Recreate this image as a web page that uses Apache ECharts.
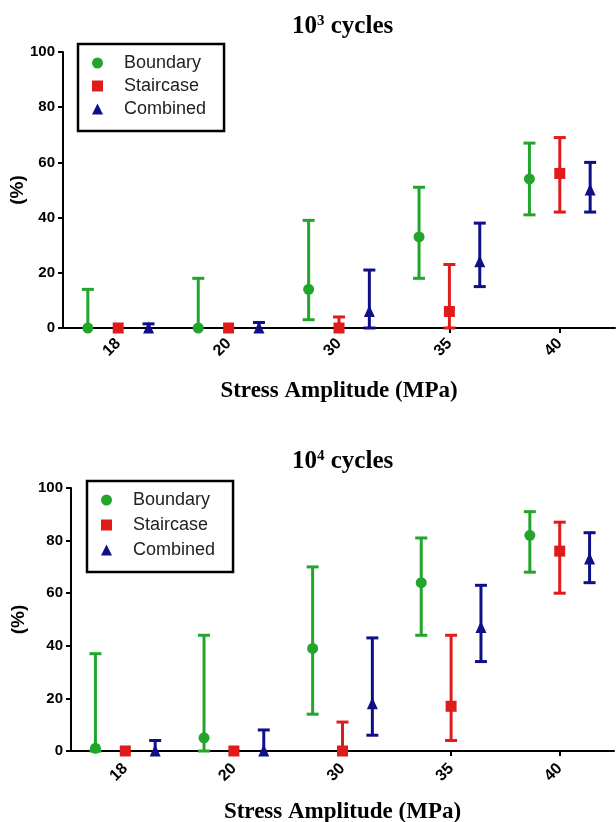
<!DOCTYPE html>
<html>
<head>
<meta charset="utf-8">
<script src="https://cdn.jsdelivr.net/npm/echarts@6/dist/echarts.min.js"></script>
<style>
  html, body { margin: 0; padding: 0; background: #fff; }
  #main { width: 616px; height: 822px; }
</style>
</head>
<body>
<div id="main"></div>
<script>
var categories = ['18', '20', '30', '35', '40'];

// 10^3 cycles
var boundary3 = [0, 0, 14, 33, 54];
var boundary3Lo = [0, 0, 3, 18, 41];
var boundary3Hi = [14, 18, 39, 51, 67];
var staircase3 = [0, 0, 0, 6, 56];
var staircase3Lo = [0, 0, 0, 0, 42];
var staircase3Hi = [0, 0, 4, 23, 69];
var combined3 = [0, 0, 6, 24, 50];
var combined3Lo = [0, 0, 0, 15, 42];
var combined3Hi = [1.5, 2, 21, 38, 60];

// 10^4 cycles
var boundary4 = [1, 5, 39, 64, 82];
var boundary4Lo = [0, 0, 14, 44, 68];
var boundary4Hi = [37, 44, 70, 81, 91];
var staircase4 = [0, 0, 0, 17, 76];
var staircase4Lo = [0, 0, 0, 4, 60];
var staircase4Hi = [0, 0, 11, 44, 87];
var combined4 = [0, 0, 18, 47, 73];
var combined4Lo = [0, 0, 6, 34, 64];
var combined4Hi = [4, 8, 43, 63, 83];

var yTicks = [0, 20, 40, 60, 80, 100];

var green = '#22a52a', red = '#e01b1b', blue = '#0f0f88';

function rows(mean, lo, hi) {
  return mean.map(function (v, i) { return [i, v, lo[i], hi[i]]; });
}

function errSeries(name, idx, color, shape, offset, data) {
  return {
    name: name,
    type: 'custom',
    xAxisIndex: idx,
    yAxisIndex: idx,
    itemStyle: { color: color },
    data: data,
    renderItem: function (params, api) {
      var xi = api.value(0), m = api.value(1), lo = api.value(2), hi = api.value(3);
      var band = api.size([1, 0])[0];
      var p = api.coord([xi, m]);
      var x = p[0] + offset * band;
      var yHi = api.coord([xi, hi])[1];
      var yLo = api.coord([xi, lo])[1];
      var st = { stroke: color, lineWidth: 3 };
      var kids = [];
      if (hi > lo) {
        kids.push({ type: 'line', shape: { x1: x, y1: yLo, x2: x, y2: yHi }, style: st });
      }
      if (hi > m) kids.push({ type: 'line', shape: { x1: x - 6, y1: yHi, x2: x + 6, y2: yHi }, style: st });
      if (lo < m) kids.push({ type: 'line', shape: { x1: x - 6, y1: yLo, x2: x + 6, y2: yLo }, style: st });
      var s = 5.5;
      if (shape === 'circle') {
        kids.push({ type: 'circle', shape: { cx: x, cy: p[1], r: s }, style: { fill: color } });
      } else if (shape === 'rect') {
        kids.push({ type: 'rect', shape: { x: x - s, y: p[1] - s, width: 2 * s, height: 2 * s }, style: { fill: color } });
      } else {
        kids.push({ type: 'polygon', shape: { points: [[x, p[1] - s - 1], [x - s, p[1] + s], [x + s, p[1] + s]] }, style: { fill: color } });
      }
      return { type: 'group', children: kids };
    }
  };
}

var myChart = echarts.init(document.getElementById('main'));

var axisLine = { lineStyle: { color: '#000', width: 2 } };

function xAxisFor(idx, gap, margin) {
  return {
    type: 'category',
    gridIndex: idx,
    data: categories,
    axisLine: axisLine,
    axisTick: { show: true, alignWithLabel: true, lineStyle: { color: '#000', width: 2 }, length: 5 },
    axisLabel: { rotate: 45, margin: margin, color: '#000', fontWeight: 'bold', fontSize: 16, fontFamily: 'Liberation Sans' },
    name: 'Stress Amplitude (MPa)',
    nameLocation: 'middle',
    nameGap: gap,
    nameMoveOverlap: false,
    nameTextStyle: { fontFamily: 'Liberation Serif', fontWeight: 'bold', fontSize: 23, color: '#000' }
  };
}

function yAxisFor(idx, gap) {
  return {
    type: 'value',
    gridIndex: idx,
    min: yTicks[0],
    max: yTicks[yTicks.length - 1],
    interval: yTicks[1] - yTicks[0],
    splitLine: { show: false },
    axisLine: { show: true, lineStyle: { color: '#000', width: 2 } },
    axisTick: { show: true, lineStyle: { color: '#000', width: 2 }, length: 5 },
    axisLabel: { margin: 8, color: '#000', fontWeight: 'bold', fontSize: 15, fontFamily: 'Liberation Sans' },
    name: '(%)',
    nameLocation: 'middle',
    nameRotate: 90,
    nameGap: gap,
    nameMoveOverlap: false,
    nameTextStyle: { fontFamily: 'Liberation Sans', fontWeight: 'bold', fontSize: 19, color: '#000' }
  };
}

function legendFor(left, top, pad, gap) {
  return {
    orient: 'vertical',
    left: left,
    top: top,
    padding: pad,
    itemGap: gap,
    itemWidth: 11,
    itemHeight: 11,
    borderColor: '#000',
    borderWidth: 2.5,
    selectedMode: false,
    textStyle: { fontFamily: 'Liberation Sans', fontSize: 18, color: '#222', padding: [0, 0, 0, 16], lineHeight: 20 },
    data: [
      { name: 'Boundary', icon: 'circle', itemStyle: { color: green } },
      { name: 'Staircase', icon: 'rect', itemStyle: { color: red } },
      { name: 'Combined', icon: 'triangle', itemStyle: { color: blue } }
    ]
  };
}

var titleStyle = {
  fontFamily: 'Liberation Serif', fontWeight: 'bold', fontSize: 25, color: '#000',
  rich: { s: { fontFamily: 'Liberation Serif', fontWeight: 'bold', fontSize: 15, color: '#000', padding: [0, 0, 11, 0] } }
};

var option = {
  animation: false,
  backgroundColor: '#fff',
  title: [
    { text: '10{s|3} cycles', left: 287, top: 9, textStyle: titleStyle },
    { text: '10{s|4} cycles', left: 287, top: 444, textStyle: titleStyle }
  ],
  legend: [
    legendFor(78, 44, [9, 18, 12, 14], 3),
    legendFor(87, 481, [9, 18, 12, 14], 5)
  ],
  grid: [
    { left: 63, right: 1, top: 52, height: 276, containLabel: false, outerBoundsMode: 'none' },
    { left: 71, right: 2, top: 488, height: 263, containLabel: false, outerBoundsMode: 'none' }
  ],
  xAxis: [xAxisFor(0, 52, 13), xAxisFor(1, 50, 15)],
  yAxis: [yAxisFor(0, 36), yAxisFor(1, 43)],
  series: [
    errSeries('Boundary', 0, green, 'circle', -0.275, rows(boundary3, boundary3Lo, boundary3Hi)),
    errSeries('Staircase', 0, red, 'rect', 0, rows(staircase3, staircase3Lo, staircase3Hi)),
    errSeries('Combined', 0, blue, 'triangle', 0.275, rows(combined3, combined3Lo, combined3Hi)),
    errSeries('Boundary', 1, green, 'circle', -0.275, rows(boundary4, boundary4Lo, boundary4Hi)),
    errSeries('Staircase', 1, red, 'rect', 0, rows(staircase4, staircase4Lo, staircase4Hi)),
    errSeries('Combined', 1, blue, 'triangle', 0.275, rows(combined4, combined4Lo, combined4Hi))
  ]
};

myChart.setOption(option);
</script>
</body>
</html>
